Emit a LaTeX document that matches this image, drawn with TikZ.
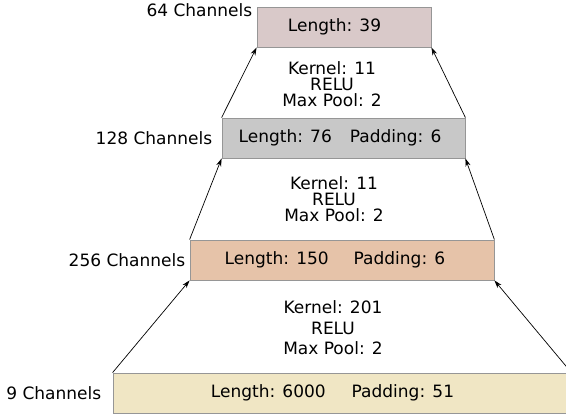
\documentclass[tikz,border=0pt]{standalone}
\usepackage{fontspec}
\setmainfont{DejaVu Sans}
\usepackage{tikz}
\usetikzlibrary{arrows.meta,positioning}

\definecolor{ch64}{RGB}{217,201,201}
\definecolor{ch128}{RGB}{200,200,200}
\definecolor{ch256}{RGB}{230,195,169}
\definecolor{ch9}{RGB}{240,230,196}
\definecolor{edgegray}{RGB}{150,150,150}

\begin{document}
\begin{tikzpicture}[x=1pt,y=-1pt,->,>={Stealth[length=8pt,width=5pt]},
                    line width=0.7pt]

  \tikzstyle{layer}=[rectangle,draw=edgegray,line width=0.8pt,minimum height=40pt,
                     inner sep=0pt,font=\fontsize{17}{17}\selectfont]
  \tikzstyle{chan}=[inner sep=0pt,font=\fontsize{17}{17}\selectfont]
  \tikzstyle{op}=[align=center,inner sep=0pt]

  \useasboundingbox (0,0) rectangle (566,417);
  \clip (0,0) rectangle (566,417);

  \node[layer,fill=ch64,minimum width=174pt]  (L64)  at (344,27)  {Length: 39\hspace*{19pt}};
  \node[layer,fill=ch128,minimum width=243pt] (L128) at (343.5,138) {Length: 76\hspace{18pt}Padding: 6\hspace*{7pt}};
  \node[layer,fill=ch256,minimum width=304pt] (L256) at (342,260) {Length: 150\hspace{25pt}Padding: 6\hspace*{14pt}};
  \node[layer,fill=ch9,minimum width=458pt]   (L9)   at (342,393) {Length: 6000\hspace{26pt}Padding: 51\hspace*{19pt}};

  \node[chan,anchor=east] (C64) at ([xshift=-4pt,yshift=-4pt]L64.north west) {64 Channels};
  \node[chan] (C128) [left=9pt of L128] {128 Channels};
  \node[chan] (C256) [left=4pt of L256] {256 Channels};
  \node[chan] (C9)   [left=11pt of L9]  {9 Channels};

  \node[op,font=\fontsize{17}{16.3}\selectfont] (K1) at (332,84)  {Kernel: 11\\RELU\\Max Pool: 2};
  \node[op,font=\fontsize{17}{16.3}\selectfont] (K2) at (334,199) {Kernel: 11\\RELU\\Max Pool: 2};
  \node[op,font=\fontsize{17}{20.5}\selectfont] (K3) at (333,328) {Kernel: 201\\RELU\\Max Pool: 2};

  \path
  (L9.north west)   edge (L256.south west)
  (L9.north east)   edge (L256.south east)
  (L256.north west) edge (L128.south west)
  (L256.north east) edge (L128.south east)
  (L128.north west) edge (L64.south west)
  (L128.north east) edge (L64.south east)
  ;
\end{tikzpicture}
\end{document}
